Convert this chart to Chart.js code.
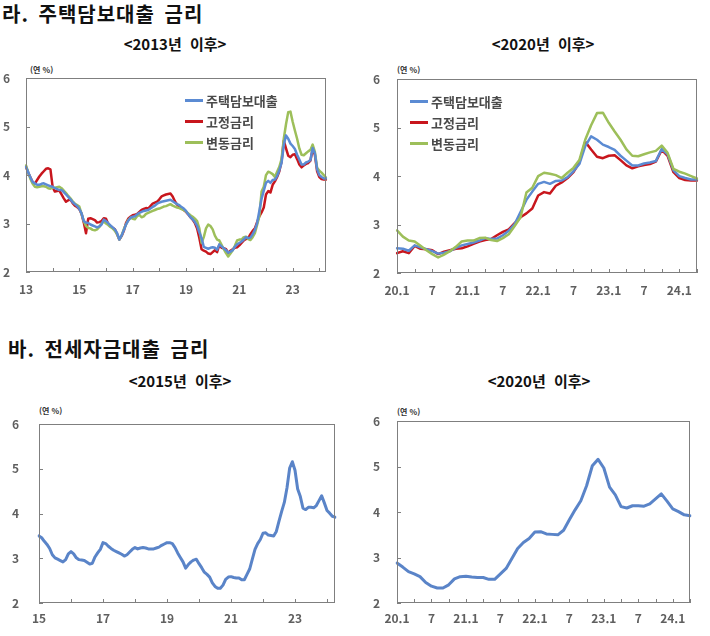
<!DOCTYPE html>
<html lang="ko">
<head>
<meta charset="utf-8">
<script src="https://cdn.jsdelivr.net/npm/chart.js@4.4.1/dist/chart.umd.min.js"></script>
<style>
  body { margin: 0; background: #fff; }
  #page { position: relative; width: 710px; height: 636px; overflow: hidden; background: #fff;
          font-family: "Noto Sans CJK KR", "Noto Sans", sans-serif; }
  canvas { position: absolute; }
  .head { position: absolute; font-size: 20px; font-weight: bold; color: #111; white-space: nowrap;
          line-height: 1; letter-spacing: 1px; word-spacing: 3px; }
  .sub { position: absolute; font-size: 15px; font-weight: bold; color: #111; white-space: nowrap;
         line-height: 1; word-spacing: 4px; transform: translate(-50%, -50%); }
  .unit { position: absolute; font-size: 8px; font-weight: bold; color: #333; line-height: 1;
          white-space: nowrap; transform: translateY(-50%); }
  .legend { position: absolute; font-size: 13px; font-weight: bold; color: #4a4a4a; line-height: 1; }
  .legend .row { display: flex; align-items: center; height: 21px; }
  .legend .swatch { width: 18px; height: 3px; margin-right: 3px; }
</style>
</head>
<body>
<div id="page">
  <div class="head" style="left:2px; top:4px;">라. 주택담보대출 금리</div>
  <div class="sub" style="left:175px; top:43px;">&lt;2013년 이후&gt;</div>
  <div class="sub" style="left:543px; top:43px;">&lt;2020년 이후&gt;</div>
  <div class="head" style="left:8px; top:339px;">바. 전세자금대출 금리</div>
  <div class="sub" style="left:180px; top:380px;">&lt;2015년 이후&gt;</div>
  <div class="sub" style="left:539px; top:380px;">&lt;2020년 이후&gt;</div>

  <div class="unit" style="left:30px; top:70px;">(연 %)</div>
  <div class="unit" style="left:397px; top:70px;">(연 %)</div>
  <div class="unit" style="left:39px; top:411px;">(연 %)</div>
  <div class="unit" style="left:397px; top:412px;">(연 %)</div>

  <canvas id="c1" width="336" height="245" style="left:0px; top:55px;"></canvas>
  <canvas id="c2" width="343" height="245" style="left:367px; top:55px;"></canvas>
  <canvas id="c3" width="340" height="239" style="left:5px; top:397px;"></canvas>
  <canvas id="c4" width="340" height="239" style="left:367px; top:397px;"></canvas>

  <div class="legend" id="leg1" style="left:185px; top:90px;"></div>
  <div class="legend" id="leg2" style="left:410px; top:91px;"></div>
</div>

<script>
// --- 데이터 (월별, 연 %) ---
const seriesNames = ['주택담보대출', '고정금리', '변동금리'];
const seriesColors = ['#5b8bd3', '#c8161d', '#9dbf5a'];
const jeonseColor = '#5a84c8';

// 주택담보대출 2013.1 ~ 2019.12
const mortAvg2013 = [
  4.17, 4.06, 3.95, 3.86, 3.83, 3.80, 3.80, 3.82, 3.83, 3.81, 3.79, 3.77,
  3.76, 3.73, 3.71, 3.69, 3.69, 3.65, 3.60, 3.55, 3.50, 3.44, 3.40, 3.36,
  3.30, 3.21, 3.05, 3.02, 3.01, 2.98, 2.96, 2.94, 2.92, 2.94, 2.98, 3.08,
  3.05, 3.01, 2.96, 2.92, 2.88, 2.80, 2.67, 2.75, 2.86, 2.98, 3.06, 3.12,
  3.14, 3.15, 3.19, 3.22, 3.24, 3.26, 3.27, 3.28, 3.31, 3.34, 3.37, 3.41,
  3.43, 3.45, 3.46, 3.47, 3.48, 3.49, 3.46, 3.43, 3.40, 3.38, 3.34, 3.31,
  3.26, 3.19, 3.13, 3.09, 3.03, 2.95, 2.82, 2.70, 2.52, 2.50, 2.48, 2.50
];
const mortFixed2013 = [
  4.17, 4.05, 3.95, 3.85, 3.82, 3.90, 3.97, 4.03, 4.08, 4.13, 4.14, 4.12,
  3.75, 3.66, 3.67, 3.68, 3.60, 3.52, 3.45, 3.48, 3.50, 3.42, 3.37, 3.34,
  3.30, 3.20, 3.02, 2.80, 3.10, 3.11, 3.09, 3.07, 3.02, 3.03, 3.05, 3.11,
  3.10, 2.99, 2.95, 2.91, 2.88, 2.78, 2.67, 2.74, 2.85, 3.01, 3.10, 3.14,
  3.17, 3.18, 3.20, 3.24, 3.28, 3.30, 3.32, 3.31, 3.36, 3.41, 3.43, 3.45,
  3.50, 3.56, 3.58, 3.60, 3.61, 3.62, 3.56, 3.46, 3.39, 3.35, 3.31, 3.28,
  3.24, 3.19, 3.13, 3.08, 3.01, 2.90, 2.70, 2.47, 2.44, 2.42, 2.38, 2.37
];
const mortFloat2013 = [
  4.20, 4.05, 3.92, 3.82, 3.76, 3.75, 3.76, 3.77, 3.77, 3.76, 3.73, 3.72,
  3.74, 3.74, 3.75, 3.76, 3.73, 3.68, 3.63, 3.57, 3.52, 3.46, 3.41, 3.38,
  3.35, 3.20, 3.05, 2.95, 2.91, 2.90, 2.87, 2.86, 2.88, 2.93, 3.00, 3.05,
  3.00, 2.97, 2.93, 2.90, 2.85, 2.78, 2.67, 2.75, 2.88, 2.98, 3.07, 3.12,
  3.10, 3.09, 3.15, 3.18, 3.13, 3.15, 3.20, 3.22, 3.24, 3.26, 3.28, 3.30,
  3.31, 3.33, 3.35, 3.36, 3.38, 3.40, 3.37, 3.35, 3.33, 3.32, 3.30, 3.28,
  3.25, 3.21, 3.17, 3.14, 3.10, 3.05, 2.90, 2.60, 2.72, 2.90, 2.98, 2.95
];

// 주택담보대출 2020.1 ~ 2024.4
const mortAvg2020 = [
  2.51, 2.50, 2.46, 2.57, 2.53, 2.49, 2.45, 2.40, 2.42, 2.45, 2.52, 2.57,
  2.60, 2.63, 2.67, 2.72, 2.70, 2.71, 2.78, 2.87, 3.01, 3.26, 3.51, 3.68,
  3.84, 3.88, 3.84, 3.90, 3.91, 3.98, 4.10, 4.25, 4.62, 4.82, 4.75, 4.65,
  4.60, 4.54, 4.42, 4.32, 4.22, 4.22, 4.26, 4.28, 4.31, 4.56, 4.45, 4.12,
  4.00, 3.96, 3.93, 3.93
];
const mortFixed2020 = [
  2.41, 2.45, 2.41, 2.56, 2.50, 2.49, 2.47, 2.39, 2.44, 2.47, 2.50, 2.51,
  2.55, 2.60, 2.65, 2.68, 2.70, 2.78, 2.85, 2.90, 3.03, 3.15, 3.23, 3.33,
  3.60, 3.67, 3.64, 3.80, 3.87, 3.96, 4.08, 4.28, 4.71, 4.55, 4.40, 4.37,
  4.42, 4.43, 4.33, 4.22, 4.16, 4.20, 4.23, 4.25, 4.30, 4.54, 4.42, 4.08,
  3.96, 3.92, 3.91, 3.91
];
const mortFloat2020 = [
  2.88, 2.75, 2.67, 2.65, 2.56, 2.47, 2.39, 2.32, 2.38, 2.45, 2.54, 2.65,
  2.67, 2.67, 2.72, 2.73, 2.68, 2.66, 2.72, 2.80, 2.97, 3.15, 3.66, 3.76,
  4.00, 4.07, 4.05, 4.02, 3.96, 4.07, 4.17, 4.33, 4.75, 5.05, 5.30, 5.31,
  5.10, 4.92, 4.75, 4.55, 4.42, 4.41, 4.45, 4.49, 4.52, 4.63, 4.48, 4.15,
  4.09, 4.05, 4.00, 3.95
];

// 전세자금대출 2015.1 ~ 2019.12
const jeonse2015 = [
  3.50, 3.46, 3.38, 3.31, 3.22, 3.08, 3.01, 2.98, 2.95, 2.92, 2.97, 3.10,
  3.15, 3.10, 3.01, 2.97, 2.96, 2.95, 2.91, 2.87, 2.89, 3.03, 3.12, 3.20,
  3.35, 3.33, 3.27, 3.22, 3.18, 3.15, 3.12, 3.09, 3.05, 3.08, 3.14, 3.20,
  3.24, 3.21, 3.23, 3.24, 3.23, 3.21, 3.21, 3.21, 3.23, 3.25, 3.29, 3.32,
  3.35, 3.35, 3.33, 3.24, 3.12, 3.02, 2.92, 2.78, 2.86, 2.92, 2.96, 2.98
];
// 전세자금대출 2020.1 ~ 2024.4
const jeonse2020 = [
  2.88, 2.79, 2.69, 2.64, 2.58, 2.45, 2.37, 2.33, 2.33, 2.40, 2.53, 2.58,
  2.59, 2.57, 2.56, 2.56, 2.52, 2.52, 2.64, 2.76, 2.98, 3.20, 3.33, 3.42,
  3.56, 3.57, 3.52, 3.51, 3.50, 3.60, 3.83, 4.05, 4.25, 4.58, 5.02, 5.16,
  4.97, 4.55, 4.38, 4.12, 4.09, 4.14, 4.14, 4.13, 4.18, 4.29, 4.40, 4.24,
  4.07, 4.01, 3.94, 3.92
];

// 축 라벨
const yearTicks2013 = ['13', '15', '17', '19', '21', '23'];          // 24개월마다
const yearTicks2015 = ['15', '17', '19', '21', '23'];                // 24개월마다
const halfTicks2020 = ['20.1', '7', '21.1', '7', '22.1', '7', '23.1', '7', '24.1']; // 6개월마다

// --- 유틸 ---
function monthLabels(startYear, count) {
  const out = [];
  for (let i = 0; i < count; i++) {
    const y = startYear + Math.floor(i / 12);
    out.push(String(y % 100).padStart(2, '0') + '.' + (i % 12 + 1));
  }
  return out;
}

// 안쪽으로 향하는 눈금 + 테두리
const innerTicks = {
  id: 'innerTicks',
  afterDatasetsDraw(chart, args, opts) {
    const { ctx, chartArea: a, scales: { x, y } } = chart;
    ctx.save();
    ctx.strokeStyle = '#7f7f7f';
    ctx.lineWidth = 1;
    ctx.strokeRect(Math.round(a.left) + 0.5, Math.round(a.top) + 0.5,
                   Math.round(a.width) - 1, Math.round(a.height) - 1);
    ctx.beginPath();
    for (let i = 0; i < x.ticks.length; i += opts.every) {
      const px = Math.round(x.getPixelForTick(i)) + 0.5;
      ctx.moveTo(px, a.bottom);
      ctx.lineTo(px, a.bottom - 4);
    }
    y.ticks.forEach((t, i) => {
      const py = Math.round(y.getPixelForTick(i)) + 0.5;
      ctx.moveTo(a.left, py);
      ctx.lineTo(a.left + 4, py);
    });
    ctx.stroke();
    ctx.restore();
  }
};

const tickFont = { family: '"Noto Sans CJK KR", "Noto Sans", sans-serif', size: 12, weight: 'bold' };

function makeChart(id, cfg) {
  return new Chart(document.getElementById(id), {
    type: 'line',
    data: {
      labels: cfg.labels,
      datasets: cfg.series.map(s => ({
        label: s.name,
        data: s.data,
        borderColor: s.color,
        borderWidth: cfg.lineWidth,
        pointRadius: 0,
        tension: 0,
        fill: false,
        borderJoinStyle: 'round',
        borderCapStyle: 'round'
      }))
    },
    options: {
      responsive: false,
      animation: false,
      events: [],
      layout: { padding: cfg.pad },
      plugins: {
        legend: { display: false },
        tooltip: { enabled: false },
        innerTicks: { every: cfg.tickEvery }
      },
      scales: {
        x: {
          grid: { display: false, drawTicks: false },
          border: { display: false },
          ticks: {
            autoSkip: false, maxRotation: 0, minRotation: 0,
            padding: cfg.xPad, color: '#5f5f5f', font: tickFont,
            callback: (v, i) => (i % cfg.labelEvery === 0 ? (cfg.tickText[i / cfg.labelEvery] || '') : '')
          },
          afterFit: s => { s.height = cfg.xHeight; }
        },
        y: {
          min: 2, max: 6,
          grid: { display: false, drawTicks: false },
          border: { display: false },
          ticks: { stepSize: 1, padding: cfg.yPad, color: '#5f5f5f', font: tickFont },
          afterFit: s => { s.width = cfg.yWidth; }
        }
      }
    },
    plugins: [innerTicks]
  });
}

function buildLegend(id) {
  const box = document.getElementById(id);
  seriesNames.forEach((name, k) => {
    const row = document.createElement('div');
    row.className = 'row';
    row.innerHTML = '<span class="swatch" style="background:' + seriesColors[k] + '"></span>' + name;
    box.appendChild(row);
  });
}

// --- 차트 ---
const labels2013 = monthLabels(2013, mortAvg2013.length + mortAvg2020.length);
const labels2015 = monthLabels(2015, jeonse2015.length + jeonse2020.length);
const labels2020 = monthLabels(2020, mortAvg2020.length);

makeChart('c1', {
  labels: labels2013,
  series: [
    { name: seriesNames[0], color: seriesColors[0], data: mortAvg2013.concat(mortAvg2020) },
    { name: seriesNames[2], color: seriesColors[2], data: mortFloat2013.concat(mortFloat2020) },
    { name: seriesNames[1], color: seriesColors[1], data: mortFixed2013.concat(mortFixed2020) }
  ],
  lineWidth: 2.5, pad: { top: 20, right: 6, left: 0, bottom: 0 },
  xHeight: 28, yWidth: 26, xPad: 10, yPad: 16,
  tickEvery: 12, labelEvery: 24, tickText: yearTicks2013
});

makeChart('c2', {
  labels: labels2020,
  series: [
    { name: seriesNames[2], color: seriesColors[2], data: mortFloat2020 },
    { name: seriesNames[0], color: seriesColors[0], data: mortAvg2020 },
    { name: seriesNames[1], color: seriesColors[1], data: mortFixed2020 }
  ],
  lineWidth: 2.5, pad: { top: 20, right: 13, left: 0, bottom: 0 },
  xHeight: 27, yWidth: 30, xPad: 10, yPad: 17,
  tickEvery: 3, labelEvery: 6, tickText: halfTicks2020
});

makeChart('c3', {
  labels: labels2015,
  series: [{ name: '전세자금대출', color: jeonseColor, data: jeonse2015.concat(jeonse2020) }],
  lineWidth: 3, pad: { top: 20, right: 10, left: 0, bottom: 0 },
  xHeight: 33, yWidth: 34, xPad: 8, yPad: 20,
  tickEvery: 12, labelEvery: 24, tickText: yearTicks2015
});

makeChart('c4', {
  labels: labels2020,
  series: [{ name: '전세자금대출', color: jeonseColor, data: jeonse2020 }],
  lineWidth: 3, pad: { top: 20, right: 17, left: 0, bottom: 0 },
  xHeight: 33, yWidth: 30, xPad: 8, yPad: 17,
  tickEvery: 3, labelEvery: 6, tickText: halfTicks2020
});

buildLegend('leg1');
buildLegend('leg2');
</script>
</body>
</html>
